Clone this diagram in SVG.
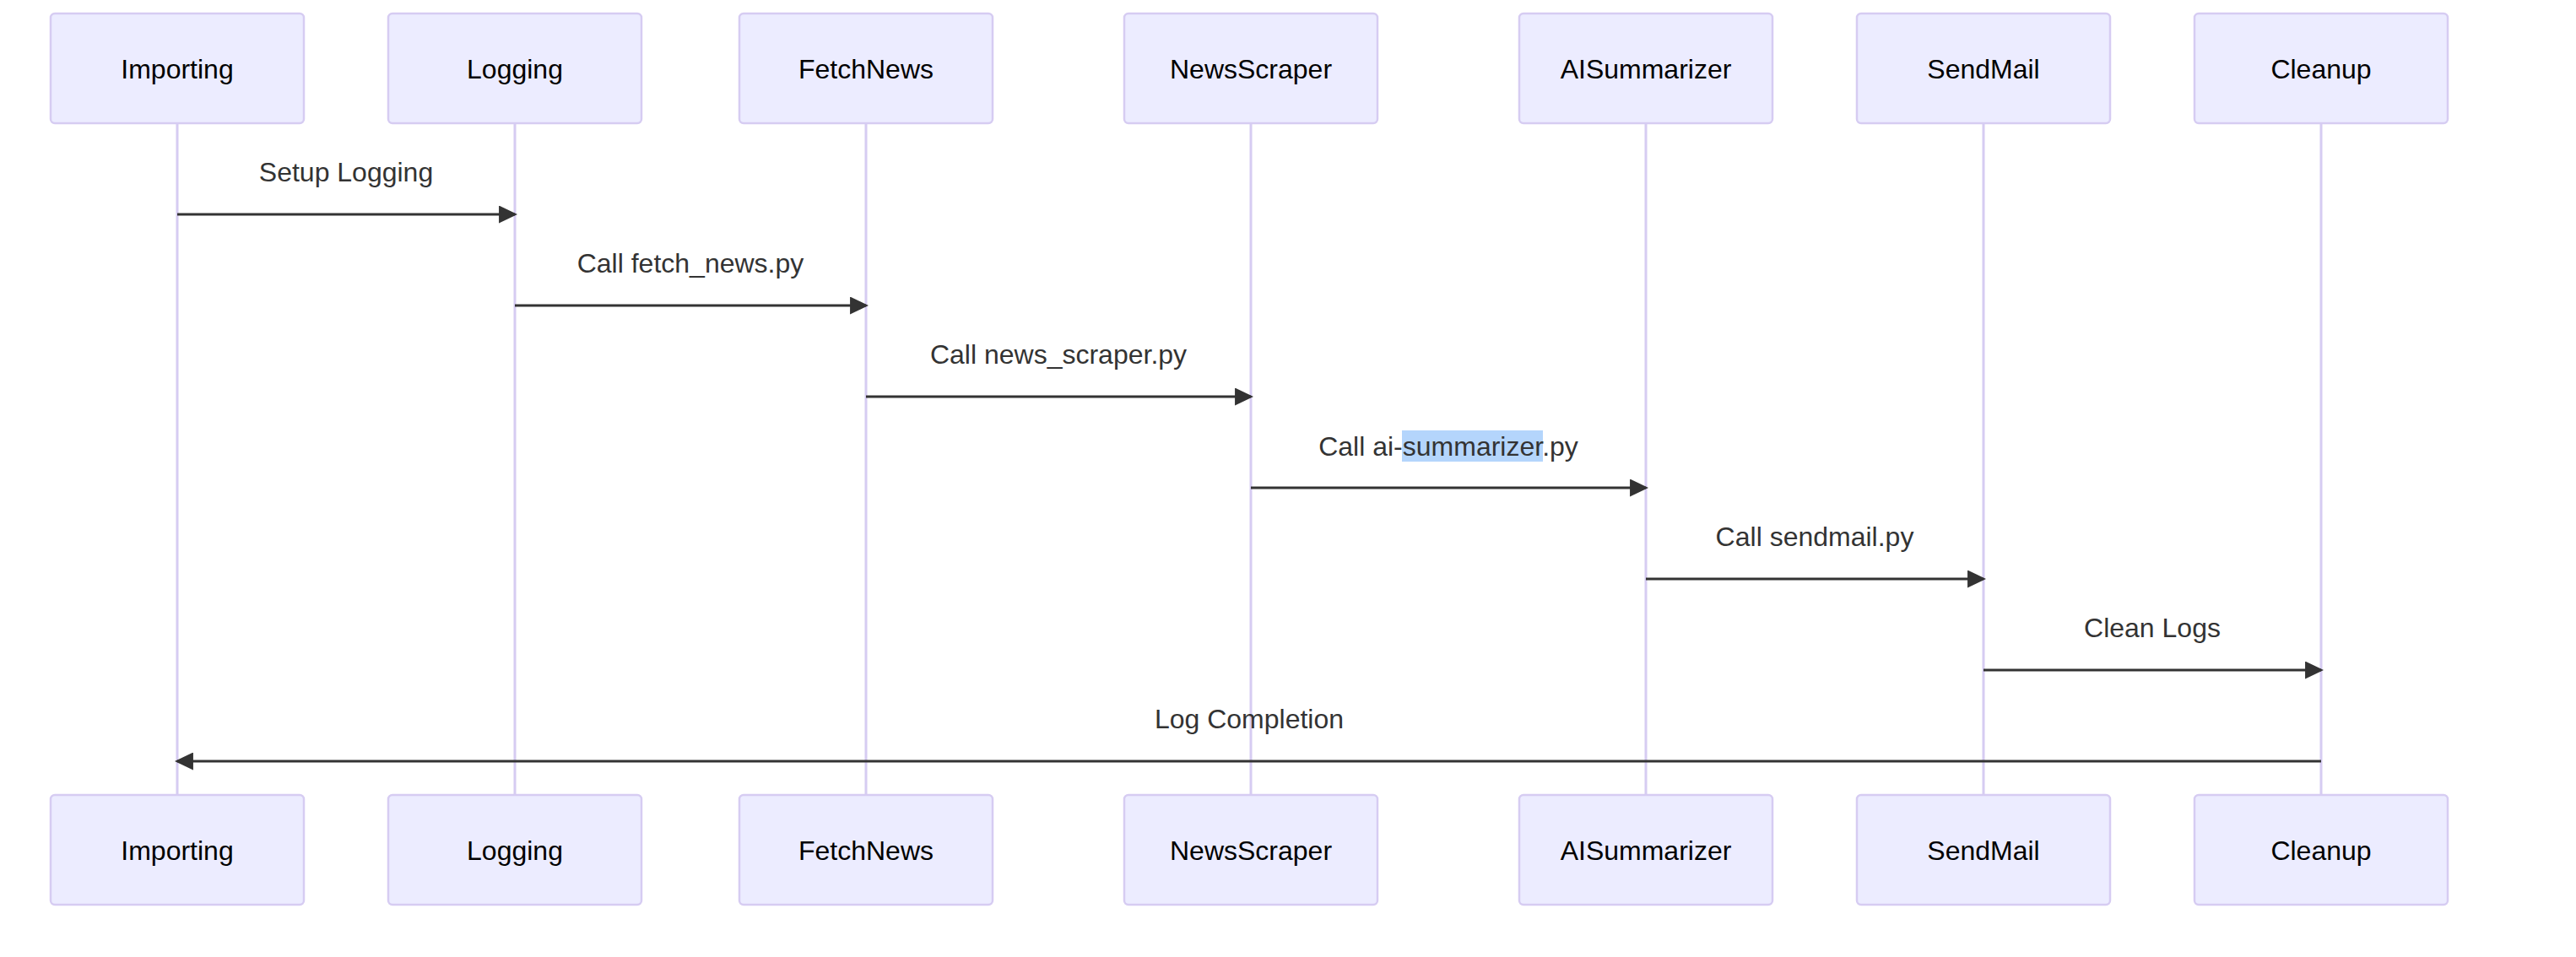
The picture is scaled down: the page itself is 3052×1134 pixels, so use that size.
<svg xmlns="http://www.w3.org/2000/svg" width="3052" height="1134" viewBox="0 0 3052 1134">
<style>
.actor{fill:#ECECFF;stroke:#D6CCF2;stroke-width:2.5}
.atext{font-family:"Liberation Sans",Arial,sans-serif;font-size:32px;fill:#000;text-anchor:middle}
.life{stroke:#D6CCF2;stroke-width:3}
.msg{stroke:#333;stroke-width:3;fill:none;marker-end:url(#arrow)}
.mtext{font-family:"Liberation Sans",Arial,sans-serif;font-size:32px;fill:#333;text-anchor:middle}
</style>
<defs>
<marker id="arrow" viewBox="0 0 10 10" refX="8.6" refY="5" markerWidth="22" markerHeight="21" markerUnits="userSpaceOnUse" orient="auto" preserveAspectRatio="none">
<path d="M0,0 L10,5 L0,10 z" fill="#333"/>
</marker>
</defs>
<rect width="3052" height="1134" fill="#fff"/>
<g id="lifelines">
<line class="life" x1="210" y1="146" x2="210" y2="942"/>
<line class="life" x1="610" y1="146" x2="610" y2="942"/>
<line class="life" x1="1026" y1="146" x2="1026" y2="942"/>
<line class="life" x1="1482" y1="146" x2="1482" y2="942"/>
<line class="life" x1="1950" y1="146" x2="1950" y2="942"/>
<line class="life" x1="2350" y1="146" x2="2350" y2="942"/>
<line class="life" x1="2750" y1="146" x2="2750" y2="942"/>
</g>
<g id="Importing">
<rect class="actor" x="60" y="16" width="300" height="130" rx="5"/><text class="atext" x="210" y="93">Importing</text>
<rect class="actor" x="60" y="942" width="300" height="130" rx="5"/><text class="atext" x="210" y="1019">Importing</text>
</g>
<g id="Logging">
<rect class="actor" x="460" y="16" width="300" height="130" rx="5"/><text class="atext" x="610" y="93">Logging</text>
<rect class="actor" x="460" y="942" width="300" height="130" rx="5"/><text class="atext" x="610" y="1019">Logging</text>
</g>
<g id="FetchNews">
<rect class="actor" x="876" y="16" width="300" height="130" rx="5"/><text class="atext" x="1026" y="93">FetchNews</text>
<rect class="actor" x="876" y="942" width="300" height="130" rx="5"/><text class="atext" x="1026" y="1019">FetchNews</text>
</g>
<g id="NewsScraper">
<rect class="actor" x="1332" y="16" width="300" height="130" rx="5"/><text class="atext" x="1482" y="93">NewsScraper</text>
<rect class="actor" x="1332" y="942" width="300" height="130" rx="5"/><text class="atext" x="1482" y="1019">NewsScraper</text>
</g>
<g id="AISummarizer">
<rect class="actor" x="1800" y="16" width="300" height="130" rx="5"/><text class="atext" x="1950" y="93">AISummarizer</text>
<rect class="actor" x="1800" y="942" width="300" height="130" rx="5"/><text class="atext" x="1950" y="1019">AISummarizer</text>
</g>
<g id="SendMail">
<rect class="actor" x="2200" y="16" width="300" height="130" rx="5"/><text class="atext" x="2350" y="93">SendMail</text>
<rect class="actor" x="2200" y="942" width="300" height="130" rx="5"/><text class="atext" x="2350" y="1019">SendMail</text>
</g>
<g id="Cleanup">
<rect class="actor" x="2600" y="16" width="300" height="130" rx="5"/><text class="atext" x="2750" y="93">Cleanup</text>
<rect class="actor" x="2600" y="942" width="300" height="130" rx="5"/><text class="atext" x="2750" y="1019">Cleanup</text>
</g>
<g id="connectors">
<text class="mtext" x="410" y="215">Setup Logging</text>
<line class="msg" x1="210" y1="254" x2="610" y2="254"/>
<text class="mtext" x="818" y="323">Call fetch_news.py</text>
<line class="msg" x1="610" y1="362" x2="1026" y2="362"/>
<text class="mtext" x="1254" y="431">Call news_scraper.py</text>
<line class="msg" x1="1026" y1="470" x2="1482" y2="470"/>
<rect x="1661" y="510" width="167" height="37" fill="#B4D5FC"/>
<text class="mtext" x="1716" y="540">Call ai-summarizer.py</text>
<line class="msg" x1="1482" y1="578" x2="1950" y2="578"/>
<text class="mtext" x="2150" y="647">Call sendmail.py</text>
<line class="msg" x1="1950" y1="686" x2="2350" y2="686"/>
<text class="mtext" x="2550" y="755">Clean Logs</text>
<line class="msg" x1="2350" y1="794" x2="2750" y2="794"/>
<text class="mtext" x="1480" y="863">Log Completion</text>
<line class="msg" x1="2750" y1="902" x2="210" y2="902"/>
</g>
</svg>
